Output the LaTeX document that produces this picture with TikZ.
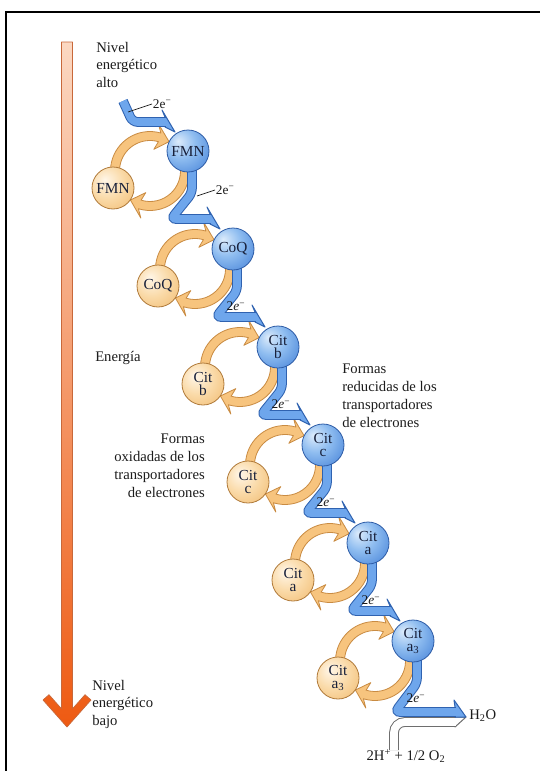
\documentclass[tikz,border=0pt]{standalone}
\usepackage{fontspec}
\setmainfont{Liberation Serif}
\usetikzlibrary{calc}
\definecolor{txtc}{HTML}{1C1C1C}
\definecolor{ctxt}{HTML}{18203A}
\definecolor{bl1}{HTML}{DCEBFB}
\definecolor{bl2}{HTML}{8FBDF0}
\definecolor{bl3}{HTML}{3F7DD6}
\definecolor{blueO}{HTML}{2E5CA6}
\definecolor{or1}{HTML}{FFF6E8}
\definecolor{or2}{HTML}{FADAA8}
\definecolor{or3}{HTML}{EFB566}
\definecolor{orO}{HTML}{B07A3A}
\definecolor{ringF}{HTML}{F7C47E}
\definecolor{ringD}{HTML}{C98B42}
\definecolor{bandL}{HTML}{6EA6EC}
\definecolor{bandD}{HTML}{2F62B0}
\definecolor{wD}{HTML}{6E6E6E}
\definecolor{enTop}{HTML}{FBD8C2}
\definecolor{enMid}{HTML}{F4A070}
\definecolor{enBot}{HTML}{EE5A12}
\definecolor{enEdge}{HTML}{C8683A}
\pgfdeclareradialshading{bluesph}{\pgfpoint{-12bp}{12bp}}{color(0bp)=(bl1); color(18bp)=(bl2); color(44bp)=(bl3); color(75bp)=(bl3)}
\pgfdeclareradialshading{orsph}{\pgfpoint{-10bp}{10bp}}{color(0bp)=(or1); color(20bp)=(or2); color(46bp)=(or3); color(75bp)=(or3)}
\begin{document}
\begin{tikzpicture}[x=0.75pt,y=0.75pt,
  txt/.style={font=\fontsize{11}{13}\selectfont, inner sep=0pt, text=txtc},
  txtb/.style={font=\fontsize{11}{13.5}\selectfont, inner sep=0pt, text=txtc},
  ring/.style={fill=ringF, draw=ringD, line width=0.6pt, line join=round},
  band/.style={draw=bandD, double=bandL, double distance=5.8pt, line width=0.75pt, rounded corners=4pt},
  harp/.style={fill=bandL, draw=bandD, line width=0.75pt, line join=round},
  wband/.style={draw=wD, double=white, double distance=5.8pt, line width=0.75pt, rounded corners=8pt},
  whead/.style={fill=white, draw=wD, line width=0.75pt, line join=round},
  bcirc/.style={circle, minimum size=31.5pt, inner sep=0pt, draw=blueO, line width=0.6pt, shade, shading=bluesph, text=ctxt, align=center, font=\fontsize{11.5}{10}\selectfont},
  ocirc/.style={circle, minimum size=31.5pt, inner sep=0pt, draw=orO, line width=0.6pt, shade, shading=orsph, text=ctxt, align=center, font=\fontsize{11.5}{10}\selectfont},
  elab/.style={font=\fontsize{10}{10}\selectfont, inner sep=0.5pt, text=txtc},
  lead/.style={draw=txtc, line width=0.5pt}
]
\useasboundingbox (0,0) rectangle (540,-771);
\fill[white] (0,0) rectangle (540,-771);
% frame
\draw[line width=1.1pt] (5,-12) -- (540,-12);
\draw[line width=1.1pt] (6,-12) -- (6,-771);

% energy arrow
\shadedraw[top color=enTop, middle color=enMid, bottom color=enBot, draw=enEdge, line width=0.5pt, line join=round]
  (61.5,-42) -- (61.5,-708.8) -- (49,-694.7) -- (43,-700) -- (67,-727) -- (91,-700) -- (85,-694.7) -- (72.5,-708.8) -- (72.5,-42) -- cycle;

% texts
\node[txt, anchor=north west, align=left] (hi) at (96,-42) {Nivel\\energético\\alto};
\node[txt, anchor=base west] (en) at (95,-361) {Energía};
\node[txt, anchor=north west, align=left] (lo) at (92,-680) {Nivel\\energético\\bajo};
\node[txtb, anchor=north west, align=left] (red) at (342,-364) {Formas\\reducidas de los\\transportadores\\de electrones};
\node[txtb, anchor=north east, align=right] (oxi) at (205,-434) {Formas\\oxidadas de los\\transportadores\\de electrones};

% centres of the reduced carriers
\foreach \i in {0,...,5}{\coordinate (B\i) at ({188+45*\i},{-151-98*\i});}

% orange cycle arrows
\foreach \i in {0,...,5}{
  \begin{scope}[shift={($(B\i)+(-38,-20)$)}]
    \filldraw[ring] (190:39.5) arc[start angle=190,end angle=74,radius=39.5] -- (80:48) -- (57:35) -- (80:22) -- (74:30.5) arc[start angle=74,end angle=190,radius=30.5] -- cycle;
    \filldraw[ring] (5:39.5) arc[start angle=5,end angle=-107,radius=39.5] -- (-101:48) -- (-124:35) -- (-101:22) -- (-107:30.5) arc[start angle=-107,end angle=5,radius=30.5] -- cycle;
  \end{scope}
}

% electron path
\filldraw[harp] (165,-117) -- ++(-3,7) -- ++(13,-22) -- ++(-10,5) -- cycle;
\draw[band] (123,-101) -- (132.5,-122) -- (165.8,-122);
\foreach \i in {0,...,4}{
  \filldraw[harp] ($(B\i)+(22,-63)$) -- ++(-3,7) -- ++(13,-22) -- ++(-10,5) -- cycle;
  \draw[band] ($(B\i)+(4,-18)$) -- ($(B\i)+(4,-42)$) -- ($(B\i)+(-17,-68)$) -- ($(B\i)+(22.8,-68)$);
}
% final step to water
\filldraw[whead] (455,-717) -- (466,-717) -- (455,-727) -- cycle;
\draw[wband] (394,-750) -- (394,-722) -- (455.8,-722);
\filldraw[harp] (455,-707) -- (454,-700) -- (466,-717) -- (455,-717) -- cycle;
\draw[band] ($(B5)+(4,-18)$) -- ($(B5)+(4,-42)$) -- (395,-712) -- (455.8,-712);

% carriers
\node[bcirc] (b0) at (B0) {FMN};
\node[ocirc] (o0) at ($(B0)+(-75,-37)$) {FMN};
\node[bcirc] (b1) at (B1) {CoQ};
\node[ocirc] (o1) at ($(B1)+(-75,-37)$) {CoQ};
\node[bcirc] (b2) at (B2) {Cit\\b};
\node[ocirc] (o2) at ($(B2)+(-75,-37)$) {Cit\\b};
\node[bcirc] (b3) at (B3) {Cit\\c};
\node[ocirc] (o3) at ($(B3)+(-75,-37)$) {Cit\\c};
\node[bcirc] (b4) at (B4) {Cit\\a};
\node[ocirc] (o4) at ($(B4)+(-75,-37)$) {Cit\\a};
\node[bcirc] (b5) at (B5) {Cit\\a\textsubscript{3}};
\node[ocirc] (o5) at ($(B5)+(-75,-37)$) {Cit\\a\textsubscript{3}};

% electron labels
\node[elab, anchor=west] (e0) at (152,-104) {2e\textsuperscript{−}};
\coordinate (l0) at (128,-112);
\draw[lead] (l0) -- (e0.west);
\node[elab, anchor=west] (e1) at (215,-190) {2e\textsuperscript{−}};
\coordinate (l1) at (197,-196);
\draw[lead] (l1) -- (e1.west);
\foreach \i in {1,...,5}{
  \node[elab, anchor=south] (ee\i) at ($(B\i)+(3,-63)$) {2\textit{e}\textsuperscript{−}};
}

% products
\node[txt, anchor=west] (h2o) at (469,-716) {H\textsubscript{2}O};
\node[txt, anchor=center] (prod) at (406,-756) {2H\textsuperscript{+} + 1/2 O\textsubscript{2}};
\end{tikzpicture}
\end{document}
